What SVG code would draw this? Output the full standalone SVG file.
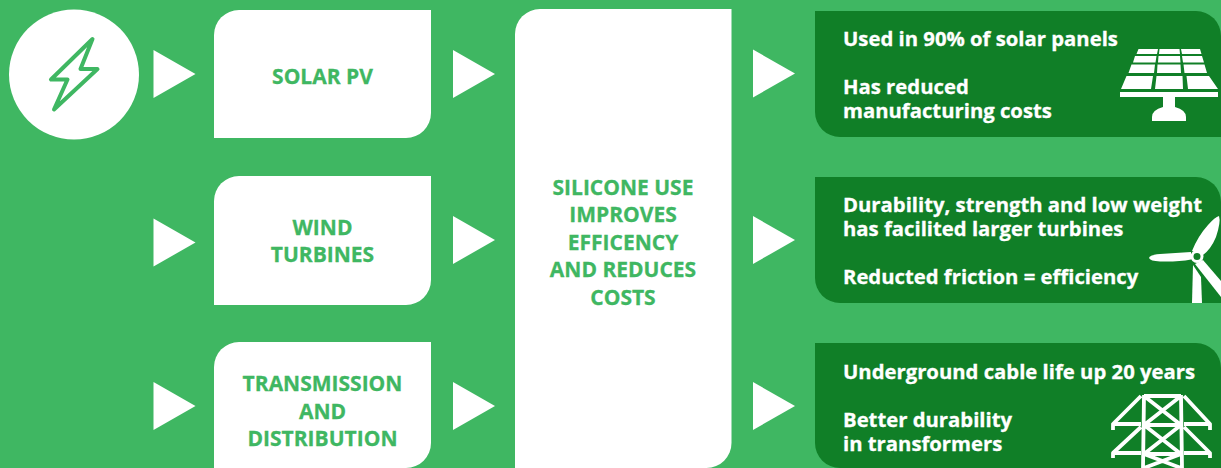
<svg xmlns="http://www.w3.org/2000/svg" width="1221" height="468" viewBox="0 0 1221 468">
<style>
text{font-family:"Open Sans","Noto Sans","Liberation Sans",sans-serif;font-weight:700}
.b{fill:#fff}
.g{fill:#3fb762;font-size:21px;text-anchor:middle;stroke:#3fb762;stroke-width:.3px}
.w{fill:#fff;font-size:20.3px;stroke:#fff;stroke-width:.3px}
.d{fill:#107f27}
.l{fill:none;stroke:#fff;stroke-width:3.800;stroke-linejoin:round}
</style>
<defs><polygon id="tri" points="0,0 42,24 0,48" fill="#fff"/></defs>
<rect width="1221" height="468" fill="#3fb762"/>
<g id="connectors">
<use href="#tri" x="153.500" y="50"/><use href="#tri" x="153.500" y="218.500"/><use href="#tri" x="153.500" y="382"/>
<use href="#tri" x="453" y="50"/><use href="#tri" x="453" y="216"/><use href="#tri" x="453" y="382"/>
<use href="#tri" x="753" y="49.500"/><use href="#tri" x="753" y="216"/><use href="#tri" x="753" y="382"/>
</g>
<g id="source">
<circle cx="74" cy="74.500" r="65" class="b"/>
<path d="M92.500 39L51 79.500H67.500L54 109.500L97.500 69H80.500Z" fill="none" stroke="#3fb762" stroke-width="4" stroke-linejoin="round"/>
</g>
<g id="solar">
<path class="b" d="M239 10H431V113a25 25 0 0 1-25 25H214V35a25 25 0 0 1 25-25Z"/>
<text class="g" x="322.500" y="83.500">SOLAR PV</text>
</g>
<g id="wind">
<path class="b" d="M239 176H431V280a25 25 0 0 1-25 25H214V201a25 25 0 0 1 25-25Z"/>
<text class="g" x="322.500" y="235">WIND</text>
<text class="g" x="322.500" y="262">TURBINES</text>
</g>
<g id="transmission">
<path class="b" d="M239 342H431V443a25 25 0 0 1-25 25H214V367a25 25 0 0 1 25-25Z"/>
<text class="g" x="322.500" y="391">TRANSMISSION</text>
<text class="g" x="322.500" y="419">AND</text>
<text class="g" x="322.500" y="446">DISTRIBUTION</text>
</g>
<g id="silicone">
<path class="b" d="M540 9H731.500V443a25 25 0 0 1-25 25H515V34a25 25 0 0 1 25-25Z"/>
<text class="g" x="623" y="195">SILICONE USE</text>
<text class="g" x="623" y="222">IMPROVES</text>
<text class="g" x="623" y="250">EFFICENCY</text>
<text class="g" x="623" y="277">AND REDUCES</text>
<text class="g" x="623" y="305">COSTS</text>
</g>
<g id="solar-facts">
<path class="d" d="M815 11H1196a25 25 0 0 1 25 25V137H840a25 25 0 0 1-25-25Z"/>
<text class="w" x="843" y="46">Used in 90% of solar panels</text>
<text class="w" x="843" y="94">Has reduced</text>
<text class="w" x="843" y="118">manufacturing costs</text>
<g class="b">
<path d="M1138.500 49H1158L1157 54H1136.500ZM1159.500 49H1179.500L1180 54H1159ZM1181 49H1200L1201.500 54H1182Z"/>
<path d="M1135 56H1156.500L1155.500 62.500H1133ZM1158.500 56H1180L1180.500 62.500H1158ZM1182 56H1202L1204 62.500H1183Z"/>
<path d="M1131.500 64.500H1155L1154 73H1128.500ZM1157.500 64.500H1180.500L1181 73H1157ZM1183.500 64.500H1204.500L1207 73H1184.500Z"/>
<path d="M1126.500 76H1153L1151 89H1121ZM1156.500 76H1182.500L1183 89H1155ZM1186.500 76H1209L1218 89H1188Z"/>
<rect x="1120" y="92" width="98" height="5"/>
<path d="M1163 97H1175V107Q1186 110 1186 117V121H1152V117Q1152 110 1163 107Z"/>
</g>
</g>
<g id="wind-facts">
<path class="d" d="M815 177H1196a25 25 0 0 1 25 25V303H840a25 25 0 0 1-25-25Z"/>
<text class="w" x="843" y="212">Durability, strength and low weight</text>
<text class="w" x="843" y="236">has facilited larger turbines</text>
<text class="w" x="843" y="284">Reducted friction = efficiency</text>
<g class="b">
<path d="M1192 251Q1198 236 1208 225Q1215 217 1219 216Q1221 222 1216 237Q1211 249 1203 255Z"/>
<path d="M1191 252L1160 254Q1149 255 1149 258Q1150 261 1160 261.500Q1178 262 1191 259.500Z"/>
<path d="M1203 260L1221 281V297L1195 264Z"/>
<path d="M1193 265L1201 277L1202 303H1192Z"/>
<circle cx="1197" cy="256.500" r="6.500"/>
<circle cx="1197" cy="256.500" r="3.500" fill="#107f27"/>
</g>
</g>
<g id="transmission-facts">
<path class="d" d="M815 343H1196a25 25 0 0 1 25 25V468H840a25 25 0 0 1-25-25Z"/>
<text class="w" x="843" y="379">Underground cable life up 20 years</text>
<text class="w" x="843" y="427">Better durability</text>
<text class="w" x="843" y="451">in transformers</text>
<g class="l">
<path d="M1144 395L1143 468M1181 395L1182 468M1144 396H1181M1144 425H1181M1144 454H1181M1144 396L1181 425M1181 396L1144 425M1144 425L1181 454M1181 425L1144 454M1144 454L1181 468M1181 454L1144 468"/>
<path d="M1141 396L1113 424V430M1113 424H1141M1184 396L1210 424V430M1210 424H1184M1141 427L1113 453V458M1113 453H1141M1184 427L1210 453V458M1210 453H1184"/>
</g>
</g>
</svg>
